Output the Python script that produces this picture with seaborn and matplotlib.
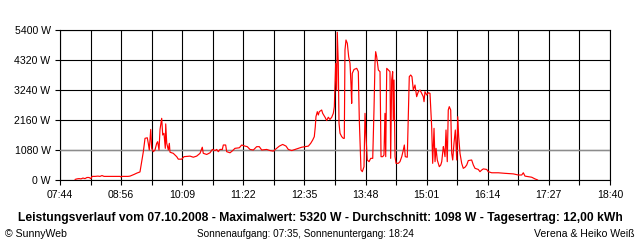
import matplotlib
matplotlib.use("Agg")
import matplotlib.pyplot as plt
import seaborn as sns
import numpy as np
import pandas as pd

# ---------------- data (time in minutes after midnight, power in W) ----------------
minutes = [
    481.9, 484.3, 486.7, 489.0, 491.4, 493.8, 496.2, 498.6, 501.0, 502.2,
    505.7, 509.3, 511.7, 514.1, 516.5, 523.6, 535.6, 536.8, 537.9, 545.1,
    547.5, 552.3, 555.8, 559.4, 561.4, 563.4, 565.4, 568.1, 569.3, 570.5,
    572.2, 573.4, 575.3, 577.3, 579.3, 580.5, 582.1, 583.3, 585.3, 586.5,
    588.0, 589.6, 590.1, 591.3, 593.2, 594.4, 595.2, 599.1, 603.2, 605.1,
    609.2, 611.9, 619.1, 623.0, 627.0, 631.0, 633.7, 634.9, 639.0, 642.9,
    645.7, 648.9, 650.9, 652.8, 654.8, 657.6, 658.8, 661.6, 662.8, 666.8,
    670.0, 672.7, 677.9, 680.7, 684.7, 687.4, 690.6, 694.6, 698.6, 701.7,
    704.6, 710.5, 714.5, 718.4, 722.5, 725.6, 729.6, 733.6, 736.3, 740.4,
    744.3, 748.2, 752.3, 756.2, 760.2, 763.0, 765.4, 767.3, 768.5, 769.3,
    770.9, 772.1, 773.3, 776.1, 777.3, 780.1, 782.1, 784.0, 786.0, 788.1,
    790.0, 791.2, 792.8, 794.0, 794.7, 795.9, 796.8, 798.0, 800.0, 801.9,
    803.1, 803.9, 805.1, 806.7, 808.3, 809.9, 811.1, 811.9, 812.6, 814.7,
    817.9, 819.8, 821.0, 823.0, 824.6, 826.6, 827.8, 829.0, 830.5, 832.6,
    834.6, 837.0, 838.5, 839.7, 840.5, 841.7, 843.7, 845.7, 846.9, 848.9,
    850.4, 851.6, 852.5, 853.7, 855.6, 857.6, 858.4, 859.6, 860.8, 861.5,
    862.4, 863.6, 864.8, 867.5, 869.5, 871.6, 873.5, 874.7, 875.8, 878.2,
    879.4, 880.6, 882.3, 883.8, 885.4, 887.4, 889.4, 891.4, 893.4, 895.4,
    897.3, 898.2, 899.3, 901.4, 903.3, 905.3, 907.3, 908.5, 910.1, 911.3,
    912.5, 914.0, 916.4, 918.1, 919.3, 921.2, 922.0, 923.2, 924.4, 925.9,
    927.1, 928.3, 930.0, 931.2, 932.4, 933.9, 935.5, 937.2, 938.4, 939.5,
    941.1, 943.1, 945.0, 947.1, 949.1, 951.0, 955.0, 957.0, 959.0, 962.9,
    964.9, 967.0, 968.9, 972.9, 974.8, 978.9, 986.8, 994.8, 1004.7, 1010.6,
    1014.7, 1016.6, 1018.6, 1022.6, 1026.6, 1030.5, 1033.8,
]
watts = [
    20, 40, 50, 40, 70, 50, 90, 90, 50, 130,
    130, 140, 130, 160, 130, 130, 130, 110, 130, 130,
    140, 200, 250, 290, 660, 1020, 1500, 1520, 1320, 1080,
    1820, 1140, 1020, 1080, 1320, 1380, 1080, 1820, 2220, 1620,
    1680, 1140, 2020, 1320, 1080, 1320, 1000, 960, 840, 750,
    750, 840, 860, 820, 860, 960, 1180, 960, 920, 980,
    1100, 1060, 1100, 1020, 1100, 1100, 1260, 1260, 1020, 980,
    1060, 1140, 1160, 1260, 1220, 1200, 1100, 1080, 1200, 1200,
    1080, 1100, 1060, 1040, 1140, 1220, 1280, 1220, 1100, 1060,
    1100, 1140, 1180, 1200, 1220, 1320, 1440, 1560, 1920, 2280,
    2460, 2340, 2460, 2520, 2400, 2260, 2140, 2260, 2180, 2260,
    2400, 2640, 4200, 3240, 5320, 4200, 2040, 1680, 1560, 1500,
    1500, 4680, 5040, 4920, 4440, 4200, 3420, 2760, 3840, 3980,
    4020, 3900, 2160, 360, 300, 480, 2400, 1560, 720, 660,
    780, 780, 2520, 4200, 4620, 4440, 3960, 3900, 840, 840,
    900, 2400, 840, 4020, 3960, 3900, 780, 3600, 3900, 2160,
    3600, 840, 600, 600, 660, 840, 1080, 1260, 840, 820,
    2220, 3720, 3780, 3720, 3240, 3420, 3000, 3180, 3240, 3120,
    3000, 2820, 3180, 3060, 3140, 3120, 1920, 600, 1860, 660,
    1140, 720, 480, 540, 660, 1200, 1080, 840, 1800, 660,
    2520, 2640, 2520, 960, 720, 1320, 1800, 720, 2280, 1560,
    960, 600, 420, 460, 540, 700, 720, 540, 420, 380,
    300, 360, 400, 380, 300, 260, 260, 240, 220, 180,
    180, 260, 140, 120, 100, 40, 0,
]
average_w = 1098
x_labels = ["07:44", "08:56", "10:09", "11:22", "12:35", "13:48", "15:01", "16:14", "17:27", "18:40"]
y_values = [0, 1080, 2160, 3240, 4320, 5400]
y_labels = ["0 W", "1080 W", "2160 W", "3240 W", "4320 W", "5400 W"]
title = ("Leistungsverlauf vom 07.10.2008 - Maximalwert: 5320 W - "
         "Durchschnitt: 1098 W - Tagesertrag: 12,00 kWh")
footer_left = "\u00a9 SunnyWeb"
footer_mid = "Sonnenaufgang: 07:35, Sonnenuntergang: 18:24"
footer_right = "Verena & Heiko Wei\u00df"

assert len(minutes) == len(watts)

# ---------------- style ----------------
sns.set_theme(style="white")
fonts = ["Liberation Sans Narrow", "Liberation Sans", "DejaVu Sans"]
plt.rcParams["font.family"] = fonts

fig = plt.figure(figsize=(6.4, 2.4), dpi=100)
fig.patch.set_facecolor("white")
ax = fig.add_axes([60 / 640, 60 / 240, 550 / 640, 150 / 240])
ax.set_facecolor("white")

df = pd.DataFrame({"t": minutes, "W": watts})
sns.lineplot(data=df, x="t", y="W", color="#ff0000", lw=0.85,
             estimator=None, sort=False, ax=ax, zorder=5)

t0, t1 = 464, 1120
grid_x = np.linspace(t0, t1, 19)
ax.set_xlim(t0, t1)
ax.set_ylim(0, 5400)
ax.set_xticks(grid_x)
lab = []
for i in range(19):
    lab.append(x_labels[i // 2] if i % 2 == 0 else "")
ax.set_xticklabels(lab)
ax.set_yticks(y_values)
ax.set_yticklabels(y_labels)
ax.set_xlabel("")
ax.set_ylabel("")

ax.grid(True, color="black", lw=0.8)
ax.set_axisbelow(True)
ax.axhline(average_w, color="#8c8c8c", lw=1.0, zorder=3)

for s in ax.spines.values():
    s.set_color("black")
    s.set_linewidth(0.8)
ax.tick_params(axis="both", direction="out", length=3.8, width=0.8,
               color="black", labelsize=7.6, labelcolor="black")
ax.tick_params(axis="x", pad=3.5)
ax.tick_params(axis="y", pad=3.0)
ax.tick_params(left=True, bottom=True)

# ---------------- texts ----------------
t_title = fig.text(0.5, 1 - 221 / 240, title, ha="center", va="baseline",
                   fontsize=8.5, fontweight="bold", color="black")
t_l = fig.text(5 / 640, 1 - 237 / 240, footer_left, ha="left", va="baseline",
               fontsize=7.6, color="black")
t_m = fig.text(305 / 640, 1 - 237 / 240, footer_mid, ha="center", va="baseline",
               fontsize=7.2, color="black")
t_r = fig.text(634 / 640, 1 - 237 / 240, footer_right, ha="right", va="baseline",
               fontsize=7.6, color="black")

fig.canvas.draw()
r = fig.canvas.get_renderer()
w = t_title.get_window_extent(r).width
t_title.set_fontsize(8.5 * 606 / w)

fig.savefig("out.png", dpi=100, facecolor="white")
